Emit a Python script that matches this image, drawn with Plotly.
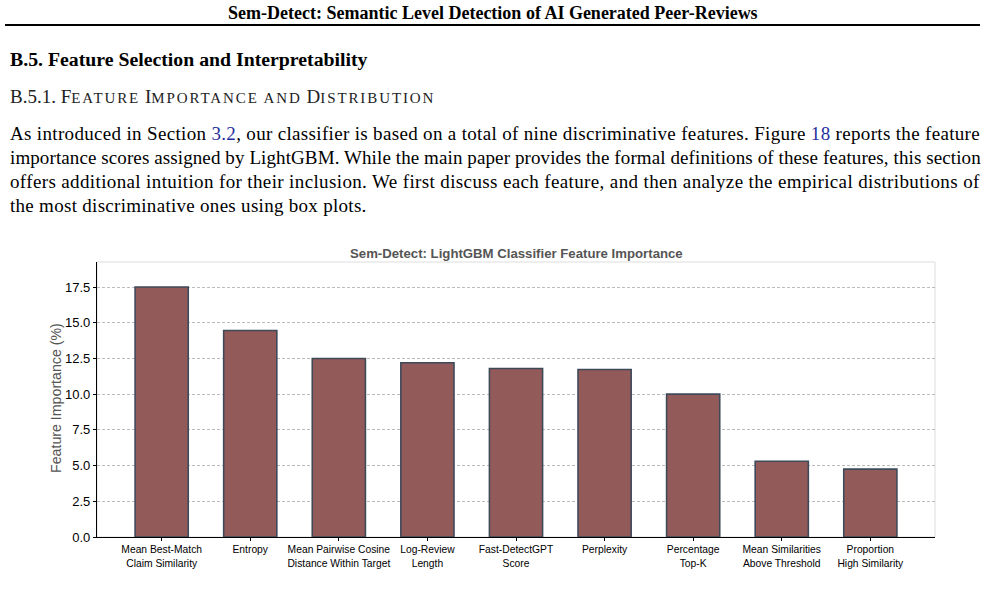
import plotly.graph_objects as go

features = [
    "Mean Best-Match<br>Claim Similarity",
    "Entropy",
    "Mean Pairwise Cosine<br>Distance Within Target",
    "Log-Review<br>Length",
    "Fast-DetectGPT<br>Score",
    "Perplexity",
    "Percentage<br>Top-K",
    "Mean Similarities<br>Above Threshold",
    "Proportion<br>High Similarity",
]
importance = [17.5, 14.45, 12.5, 12.2, 11.8, 11.72, 10.0, 5.3, 4.75]
y_ticks = [0, 2.5, 5, 7.5, 10, 12.5, 15, 17.5]

page_header = "Sem-Detect: Semantic Level Detection of AI Generated Peer-Reviews"
section = "B.5. Feature Selection and Interpretability"
link = "color:#1f2f9c"
paragraph = [
    f"As introduced in Section <span style='{link}'>3.2</span>, our classifier is based on a total of nine discriminative features. Figure <span style='{link}'>18</span> reports the feature",
    "importance scores assigned by LightGBM. While the main paper provides the formal definitions of these features, this section",
    "offers additional intuition for their inclusion. We first discuss each feature, and then analyze the empirical distributions of",
    "the most discriminative ones using box plots.",
]
# rough justification of the paragraph lines
line_spacing = [0.33, 0.1, 0.37, 0.29]

W, H = 986, 593
L, R, T, B = 97, 935, 262, 537


def px(x):
    return (x - L) / (R - L)


def py(y):
    return (B - y) / (B - T)


sc = "font-size:15px;letter-spacing:1.9px"
subsection = (
    f"B.5.1. F<span style='{sc}'>EATURE</span> I<span style='{sc}'>MPORTANCE AND</span> "
    f"D<span style='{sc}'>ISTRIBUTION</span>"
)

fig = go.Figure()
fig.add_trace(
    go.Bar(
        x=list(range(len(features))),
        y=importance,
        width=0.6,
        marker=dict(color="#935a5a", line=dict(color="#3f4a59", width=1.6)),
        hoverinfo="skip",
    )
)

serif = "Liberation Serif"
ann = [
    dict(x=px(493), y=py(13), text=f"<b>{page_header}</b>", xanchor="center",
         font=dict(family=serif, size=18, color="black")),
    dict(x=px(8), y=py(59), text=f"<b>{section}</b>", xanchor="left",
         font=dict(family=serif, size=19.8, color="black")),
    dict(x=px(8), y=py(96), text=subsection, xanchor="left",
         font=dict(family=serif, size=19, color="#222")),
]
for i, (line, ls) in enumerate(zip(paragraph, line_spacing)):
    ann.append(dict(x=px(8), y=py(133 + i * 24),
                    text=f"<span style='letter-spacing:{ls}px'>{line}</span>", xanchor="left",
                    font=dict(family=serif, size=19, color="black")))
ann.append(dict(x=0.5, y=py(253), text="<b>Sem-Detect: LightGBM Classifier Feature Importance</b>",
                xanchor="center", font=dict(family="Liberation Sans", size=13.2, color="#555")))
ann.append(dict(x=px(56), y=py(398), text="Feature Importance (%)", textangle=-90, xanchor="center",
                font=dict(family="Liberation Sans", size=14.2, color="#555")))
for a in ann:
    a.update(xref="paper", yref="paper", yanchor="middle", showarrow=False)

fig.update_layout(
    width=W,
    height=H,
    margin=dict(l=L, r=W - R, t=T, b=H - B),
    paper_bgcolor="white",
    plot_bgcolor="white",
    showlegend=False,
    annotations=ann,
    font=dict(family="Liberation Sans", color="black"),
    shapes=[
        dict(type="line", xref="paper", yref="paper", x0=px(5), x1=px(980),
             y0=py(25), y1=py(25), line=dict(color="black", width=2)),
        dict(type="rect", xref="paper", yref="paper", x0=0, x1=1, y0=0, y1=1,
             line=dict(color="#dddddd", width=1), layer="below"),
    ],
)
fig.update_xaxes(
    range=[-0.73, 8.73],
    tickvals=list(range(len(features))),
    ticktext=features,
    tickfont=dict(size=10.3, color="black"),
    showgrid=False,
    showline=True,
    linecolor="black",
    linewidth=1.2,
    ticks="outside",
    ticklen=3,
    tickcolor="black",
)
fig.update_yaxes(
    range=[0, 19.25],
    tickvals=y_ticks,
    ticktext=[f"{v:.1f}" for v in y_ticks],
    tickfont=dict(size=13, color="black"),
    showgrid=True,
    gridcolor="#bbbbbb",
    griddash="3px,2px",
    gridwidth=0.8,
    showline=True,
    linecolor="black",
    linewidth=1.2,
    ticks="outside",
    ticklen=3,
    tickcolor="black",
    zeroline=False,
)

fig.write_html("out.html", config={"displayModeBar": False},
               post_script="document.body.style.margin='0';")
